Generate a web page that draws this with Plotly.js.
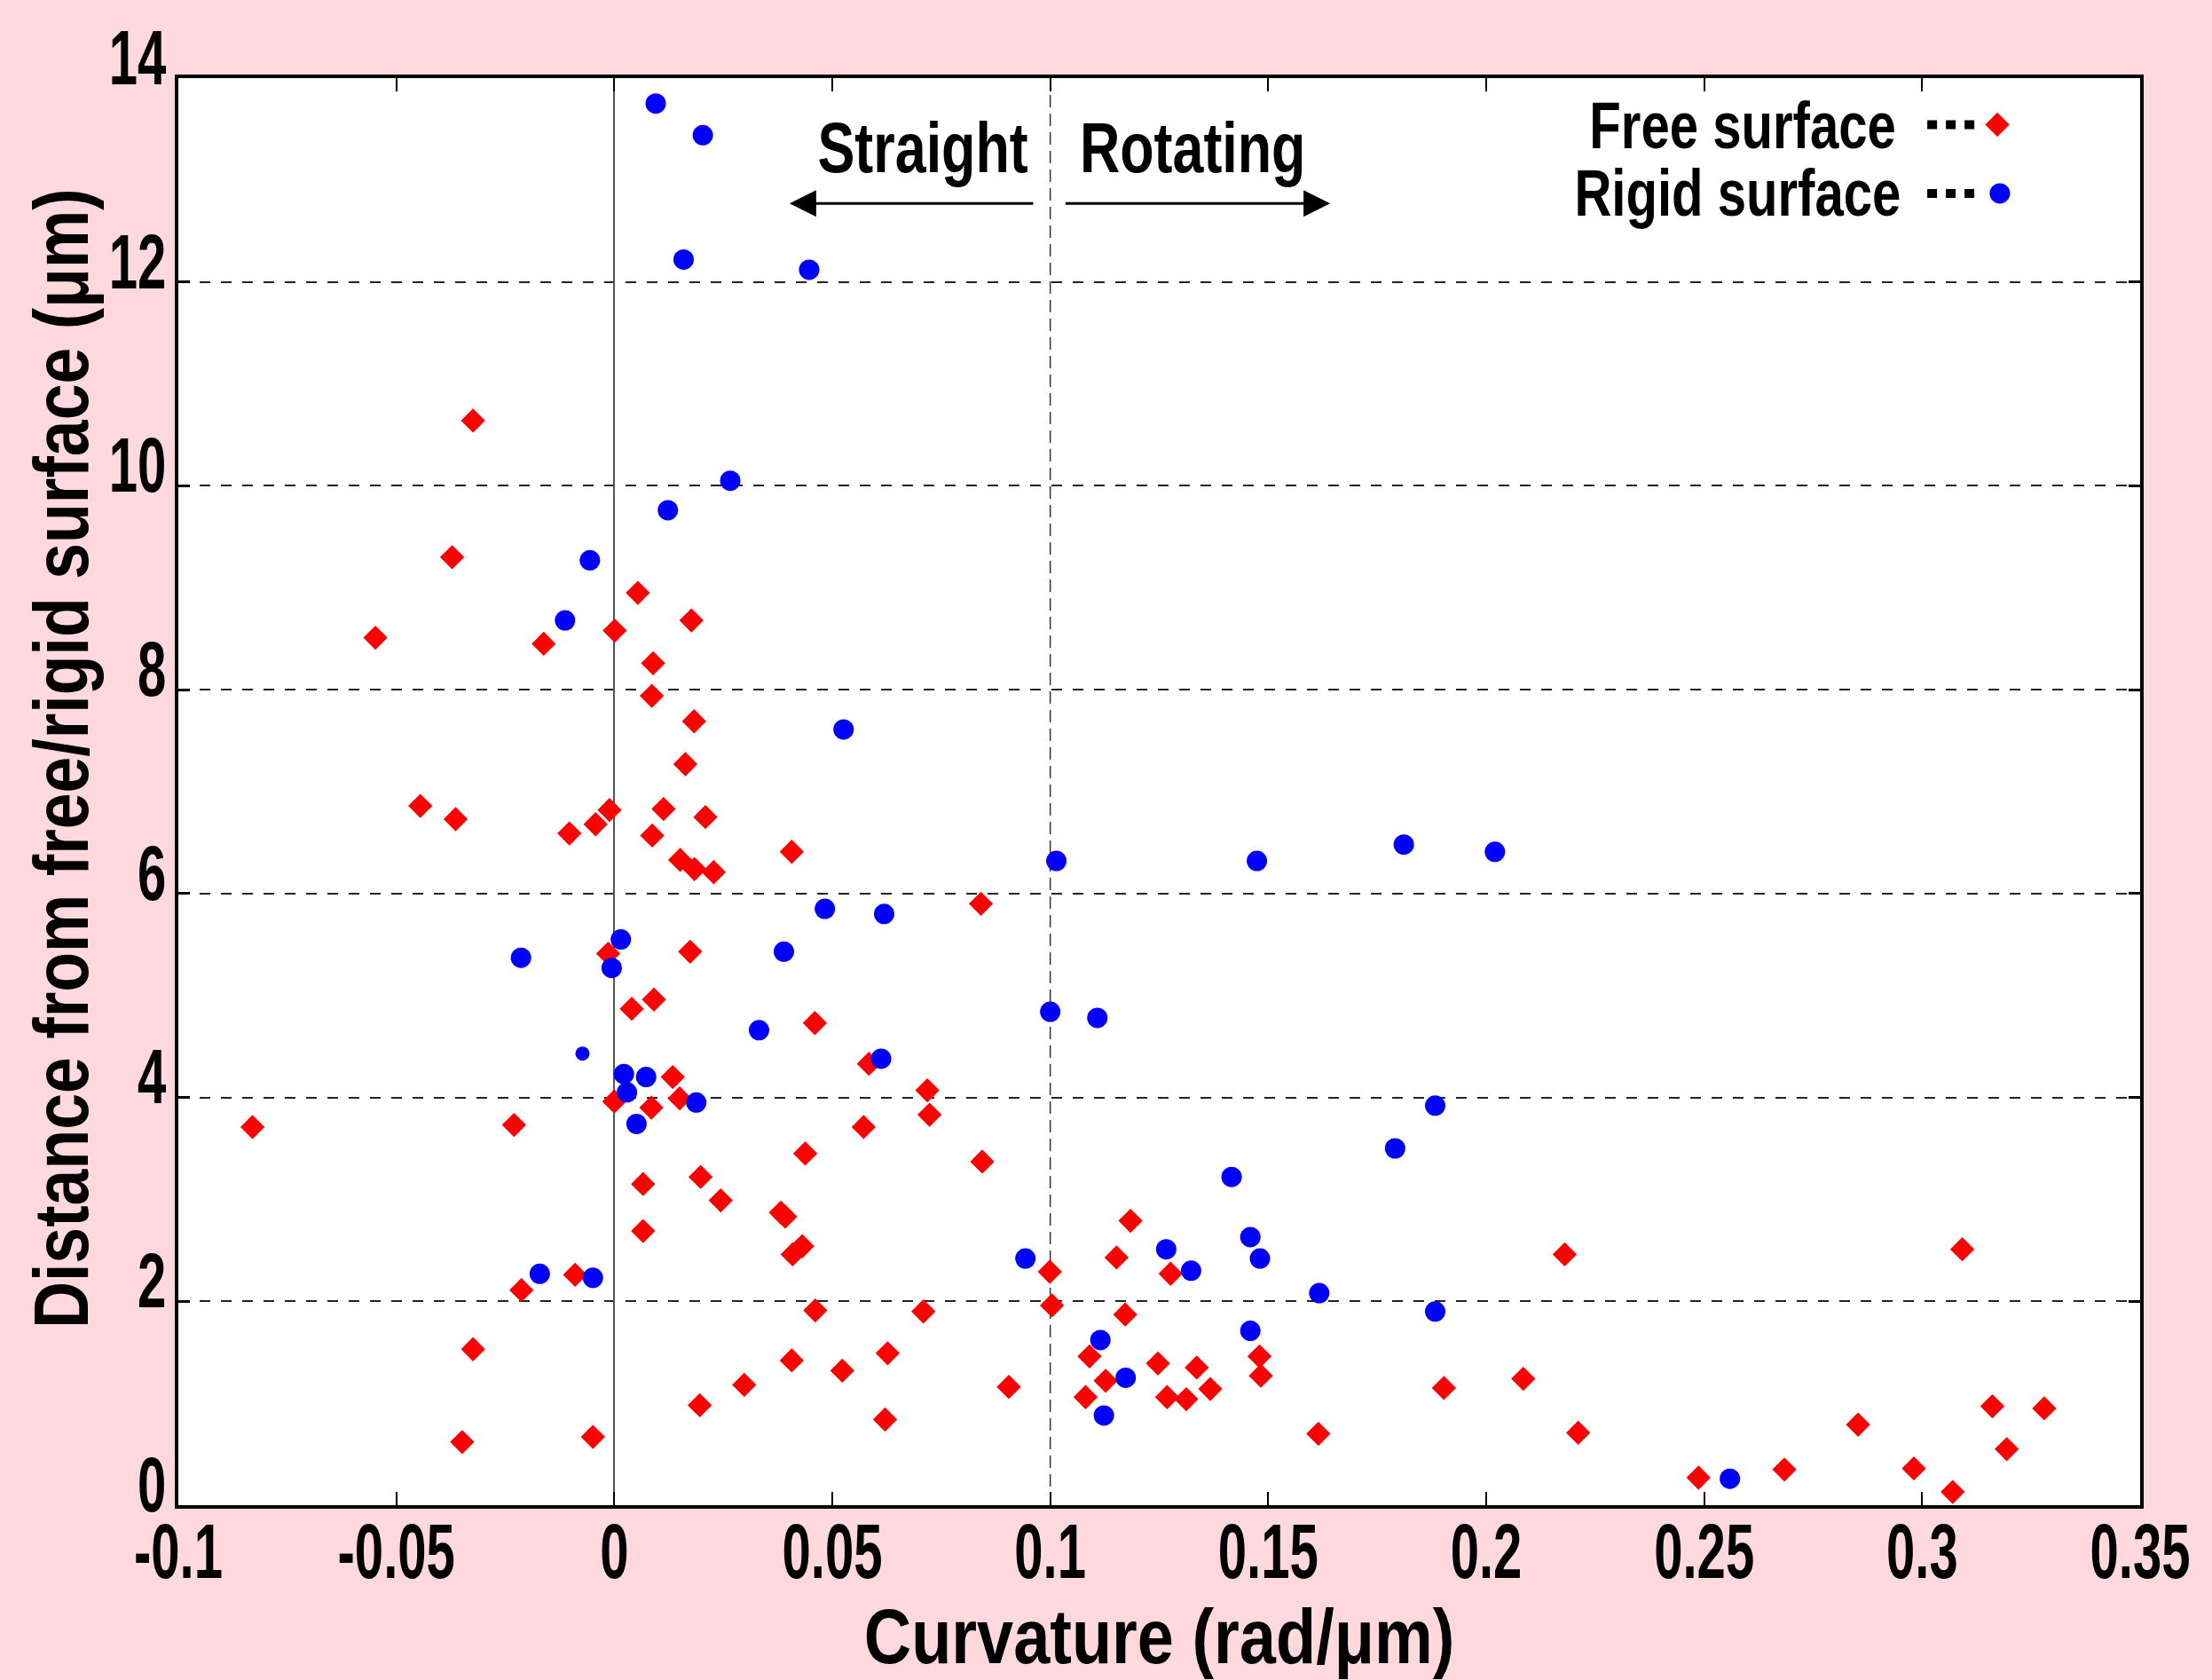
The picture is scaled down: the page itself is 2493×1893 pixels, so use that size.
<!DOCTYPE html>
<html><head><meta charset="utf-8">
<script src="https://cdn.plot.ly/plotly-3.0.1.min.js"></script>
<style>
html,body{margin:0;padding:0;background:#ffd9de;}
#chart{width:2493px;height:1893px;}
</style>
</head><body><div id="chart"></div>
<script>
// ---------------- data ----------------
const seriesNames = ['Free surface', 'Rigid surface'];
const xTitle = 'Curvature (rad/\u03bcm)';
const yTitle = 'Distance from free/rigid surface (\u03bcm)';
const regionLabels = ['Straight', 'Rotating'];
const boundaryX = 0.1;

const xTickVals = [-0.1, -0.05, 0, 0.05, 0.1, 0.15, 0.2, 0.25, 0.3, 0.35];
const xTickText = ['-0.1', '-0.05', '0', '0.05', '0.1', '0.15', '0.2', '0.25', '0.3', '0.35'];
const yTickVals = [0, 2, 4, 6, 8, 10, 12, 14];
const yTickText = ['0', '2', '4', '6', '8', '10', '12', '14'];

const freeX = [-0.0372, 0.0054, -0.0548, -0.0162, 0.0001, -0.0445, -0.0364, -0.0103, -0.0043, -0.0011,
  -0.0324, 0.0177, 0.0089, 0.0086, 0.0183, 0.0163, 0.0113, 0.0209, 0.0087, 0.0151,
  0.0184, 0.0228, 0.0407, -0.0014, 0.0040, 0.0000, -0.0830, -0.0230, 0.0066, 0.0066,
  -0.0090, 0.0841, 0.0174, 0.0091, 0.0460, 0.0584, 0.0134, 0.0718, 0.0150, 0.0085,
  0.0723, 0.0572, 0.0438, 0.0844, 0.0198, 0.0244, 0.0382, 0.0392, 0.0409, 0.0431,
  0.0999, -0.0213, 0.1004, 0.0461, 0.0709, -0.0324, 0.0627, 0.0407, 0.0523, 0.0298,
  0.0905, 0.0196, 0.0621, -0.0349, -0.0049, 0.1184, 0.1152, 0.1276, 0.2180, 0.1172,
  0.1090, 0.1247, 0.1336, 0.1480, 0.1483, 0.1127, 0.1081, 0.1268, 0.1312, 0.1367,
  0.1615, 0.1903, 0.2085, 0.2211, 0.3092, 0.2853, 0.3161, 0.3280, 0.3194, 0.2684,
  0.2981, 0.2487, 0.3070];
const freeY = [9.30, 8.95, 8.51, 8.45, 8.58, 6.86, 6.73, 6.59, 6.68, 6.82,
  10.64, 8.68, 8.26, 7.94, 7.69, 7.27, 6.83, 6.75, 6.57, 6.33,
  6.24, 6.21, 6.41, 5.41, 4.87, 3.96, 3.71, 3.73, 3.15, 2.69,
  2.26, 5.90, 5.43, 4.96, 4.73, 4.33, 4.20, 4.07, 3.99, 3.90,
  3.83, 3.71, 3.45, 3.37, 3.22, 2.99, 2.87, 2.83, 2.46, 2.54,
  2.29, 2.11, 1.96, 1.91, 1.90, 1.53, 1.49, 1.42, 1.32, 1.18,
  1.16, 0.98, 0.84, 0.62, 0.67, 2.79, 2.43, 2.27, 2.46, 1.87,
  1.46, 1.39, 1.35, 1.46, 1.27, 1.22, 1.06, 1.06, 1.04, 1.14,
  0.70, 1.15, 1.24, 0.71, 2.51, 0.79, 0.97, 0.95, 0.55, 0.35,
  0.36, 0.27, 0.13];

const rigidX = [0.0095, 0.0203, 0.0159, 0.0447, 0.0266, 0.0123, -0.0056, -0.0113, 0.0526, 0.1014,
  0.1474, 0.1811, 0.2020, 0.0483, 0.0619, 0.0015, -0.0006, -0.0214, 0.0389, 0.1000,
  0.1108, 0.0332, 0.0612, -0.0073, 0.0022, 0.0073, 0.0029, 0.0188, 0.0051, 0.1883,
  0.1791, 0.1416, 0.1459, 0.1266, 0.1481, 0.1323, 0.0943, 0.1617, 0.1883, 0.1115,
  0.1459, 0.1173, 0.1123, -0.0171, -0.0049, 0.2559];
const rigidY = [13.75, 13.44, 12.22, 12.12, 10.05, 9.76, 9.27, 8.68, 7.61, 6.32,
  6.32, 6.48, 6.41, 5.85, 5.80, 5.55, 5.27, 5.37, 5.43, 4.84,
  4.78, 4.66, 4.38, 4.43, 4.23, 4.20, 4.05, 3.95, 3.74, 3.92,
  3.50, 3.22, 2.63, 2.51, 2.42, 2.30, 2.42, 2.08, 1.90, 1.62,
  1.71, 1.25, 0.88, 2.27, 2.23, 0.26];
const rigidSmallIndex = 23; // the one smaller dot near (-0.007, 4.4)

// ---------------- styling ----------------
const FONT = '"Liberation Sans", Arial, sans-serif';
const RED = '#ff0000', BLUE = '#0000ff';
const rigidSizes = rigidX.map((_, i) => i === rigidSmallIndex ? 16 : 23);
const f = (size) => ({ family: FONT, size: size, weight: 'bold', color: '#000' });

const traces = [
  { type: 'scatter', mode: 'markers', name: seriesNames[0], x: freeX, y: freeY,
    marker: { symbol: 'diamond', size: 21, color: RED, opacity: 1, line: { width: 0 } }, hoverinfo: 'x+y' },
  { type: 'scatter', mode: 'markers', name: seriesNames[1], x: rigidX, y: rigidY,
    marker: { symbol: 'circle', size: rigidSizes, color: BLUE, opacity: 1, line: { width: 0 } }, hoverinfo: 'x+y' },
  // custom legend symbols on an invisible overlay frame (0..1)
  { type: 'scatter', mode: 'markers', xaxis: 'x2', yaxis: 'y2', x: [0.9272, 0.9285], y: [0.9674, 0.9192],
    marker: { symbol: ['diamond', 'circle'], size: [21, 23], color: [RED, BLUE], opacity: 1, line: { width: 0 } },
    hoverinfo: 'skip', showlegend: false }
];

const axisCommon = {
  showline: true, linecolor: '#000', linewidth: 4, mirror: 'ticks',
  ticks: 'inside', tickcolor: '#000', ticklabeloverflow: 'allow'
};

const layout = {
  width: 2493, height: 1893,
  paper_bgcolor: '#ffd9de', plot_bgcolor: '#ffffff',
  margin: { l: 201, r: 81, t: 88, b: 197 },
  showlegend: false,
  font: f(20),
  xaxis: Object.assign({}, axisCommon, {
    range: [-0.1, 0.35], tickmode: 'array', tickvals: xTickVals, ticktext: xTickText,
    ticklen: 15, tickwidth: 2,
    showgrid: false,
    zeroline: true, zerolinecolor: '#555', zerolinewidth: 1.5,
    tickfont: f(88), ticklabelstandoff: -28,
    title: { text: xTitle, font: f(88), standoff: 43 }
  }),
  yaxis: Object.assign({}, axisCommon, {
    range: [0, 14], tickmode: 'array', tickvals: yTickVals, ticktext: yTickText,
    ticklen: 13, tickwidth: 3,
    showgrid: true, gridcolor: '#222', gridwidth: 1.5, griddash: '12px,12px',
    zeroline: false,
    tickfont: f(88),
    ticklabelshift: -24, ticklabelstandoff: -8
  }),
  xaxis2: { overlaying: 'x', range: [0, 1], visible: false },
  yaxis2: { overlaying: 'y', range: [0, 1], visible: false },
  shapes: [
    { type: 'line', xref: 'x', yref: 'paper', x0: boundaryX, x1: boundaryX, y0: 0, y1: 1,
      line: { color: '#333', width: 1.5, dash: '14px,7px' }, layer: 'below' },
    // legend dotted leaders
    { type: 'line', xref: 'paper', yref: 'paper', x0: 0.8915, x1: 0.9172, y0: 0.9674, y1: 0.9674,
      line: { color: '#000', width: 10, dash: '11px,10px' } },
    { type: 'line', xref: 'paper', yref: 'paper', x0: 0.8915, x1: 0.9172, y0: 0.9192, y1: 0.9192,
      line: { color: '#000', width: 10, dash: '11px,10px' } }
  ],
  annotations: [
    // y-axis title (index 0)
    { xref: 'paper', yref: 'paper', x: -0.0602, y: 0.523, text: yTitle, textangle: -90, showarrow: false,
      xanchor: 'center', yanchor: 'middle', font: f(88) },
    { xref: 'x', yref: 'y', x: 0.0402, y: 12.77, ax: 0.0964, ay: 12.77, axref: 'x', ayref: 'y',
      text: '', showarrow: true, arrowhead: 2, arrowsize: 2, arrowwidth: 3, arrowcolor: '#000', standoff: 0 },
    { xref: 'x', yref: 'y', x: 0.1642, y: 12.77, ax: 0.1032, ay: 12.77, axref: 'x', ayref: 'y',
      text: '', showarrow: true, arrowhead: 2, arrowsize: 2, arrowwidth: 3, arrowcolor: '#000', standoff: 0 },
    { xref: 'x', yref: 'y', x: 0.0707, y: 13.32, text: regionLabels[0], showarrow: false,
      xanchor: 'center', yanchor: 'middle', font: f(80) },
    { xref: 'x', yref: 'y', x: 0.1327, y: 13.32, text: regionLabels[1], showarrow: false,
      xanchor: 'center', yanchor: 'middle', font: f(80) },
    { xref: 'paper', yref: 'paper', x: 0.7974, y: 0.967, text: seriesNames[0], showarrow: false,
      xanchor: 'center', yanchor: 'middle', font: f(74) },
    { xref: 'paper', yref: 'paper', x: 0.7951, y: 0.9194, text: seriesNames[1], showarrow: false,
      xanchor: 'center', yanchor: 'middle', font: f(74) }
  ]
};

// The reference uses a condensed typeface: squeeze glyphs horizontally (text stays real text).
function squeeze(selector, factor) {
  document.querySelectorAll(selector).forEach(t => {
    const L = t.getComputedTextLength();
    if (L > 0) {
      t.setAttribute('textLength', (L * factor).toFixed(1));
      t.setAttribute('lengthAdjust', 'spacingAndGlyphs');
    }
  });
}

Plotly.newPlot('chart', traces, layout, { displayModeBar: false }).then(() => {
  squeeze('#chart .xtick text, #chart .ytick text', 0.66);
  squeeze('#chart .g-xtitle text', 0.84);
  squeeze('#chart .annotation[data-index="0"] .annotation-text', 0.834);
  squeeze('#chart .annotation:not([data-index="0"]) .annotation-text', 0.785);
});
</script>
</body></html>
